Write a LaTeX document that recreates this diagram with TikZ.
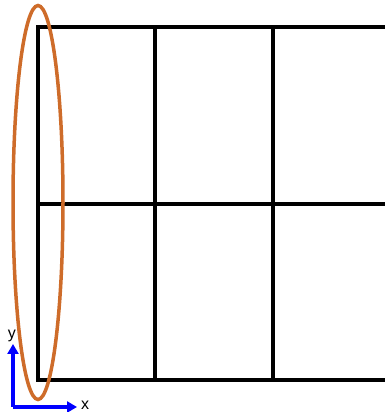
\documentclass[tikz,border=0pt]{standalone}
\usepackage{fontspec}
\setsansfont{Liberation Sans}
\usepackage{tikz}
\usetikzlibrary{arrows.meta}
\definecolor{rustorange}{RGB}{206,108,42}

\begin{document}
\begin{tikzpicture}[
    x=1pt, y=1pt,
    font=\sffamily\fontsize{16}{16}\selectfont,
    gridline/.style={draw=black, line width=3.5pt},
    region/.style={draw=rustorange, line width=3.5pt},
    axis/.style={-{Triangle[length=10pt, width=11pt]}, draw=blue, fill=blue, line width=3.5pt}
]
\useasboundingbox (0,0) rectangle (385,412);
% ---------------- GRID ----------------
\draw[gridline] (385,385) -- (38,385) -- (38,32) -- (385,32);
\draw[gridline] (38,208) -- (385,208);
\draw[gridline] (155,385) -- (155,32);
\draw[gridline] (273,385) -- (273,32);
% ---------------- SELECTED COLUMN ----------------
\draw[region] (38,209.5) ellipse (25 and 197);
% ---------------- AXES ----------------
\coordinate (origin) at (13,5);
\coordinate (xend) at (77,5);
\coordinate (yend) at (13,68);
\draw[axis] (origin) -- (xend);
\draw[axis] (origin) -- (yend);
\node[anchor=base west, inner sep=0pt] (xlabel) at (81,2) {x};
\node[anchor=south, inner sep=1pt] (ylabel) at (12,69) {y};
\end{tikzpicture}
\end{document}
